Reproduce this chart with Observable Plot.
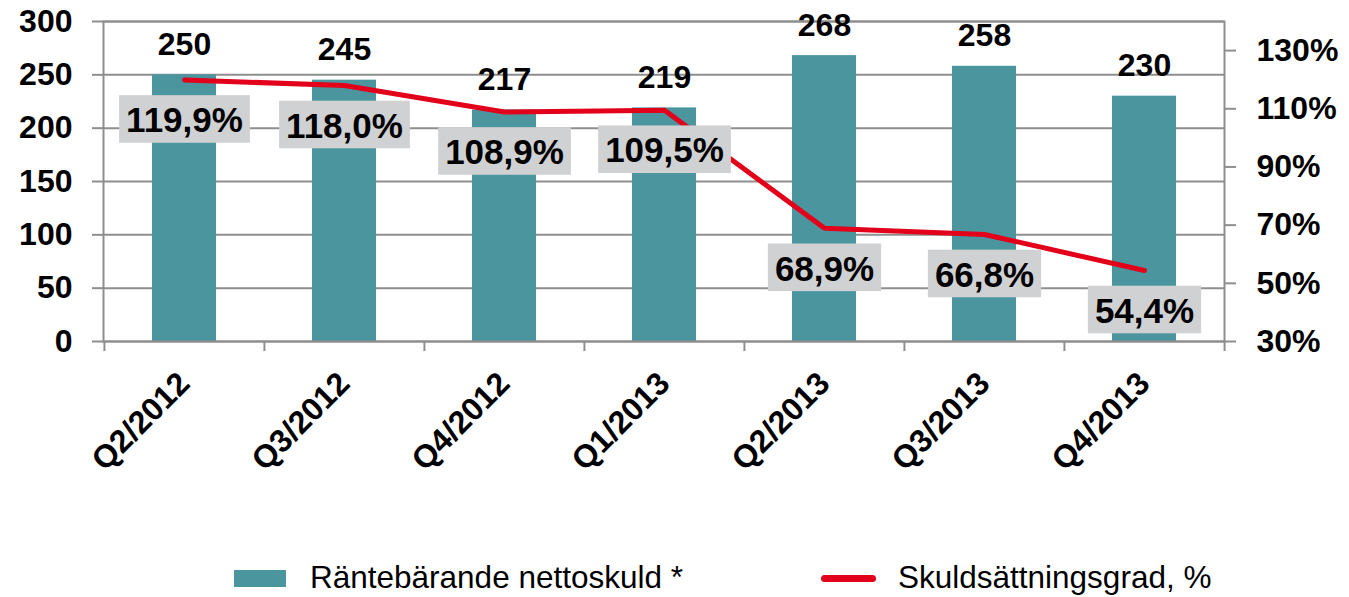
<!DOCTYPE html>
<html><head><meta charset="utf-8">
<script src="https://cdn.jsdelivr.net/npm/d3@7"></script>
<script src="https://cdn.jsdelivr.net/npm/@observablehq/plot@0.6"></script>
<style>
html,body{margin:0;padding:0;background:#fff;}
#wrap{position:relative;width:1349px;height:597px;font-family:"Liberation Sans",Arial,sans-serif;overflow:hidden;}
#chart svg{display:block;}
.lg{position:absolute;}
.lgtext{position:absolute;font-size:31.5px;line-height:31px;color:#000;white-space:nowrap;}
</style></head><body>
<div id="wrap"><div id="chart"></div><div id="legend"></div></div>
<script>
const categories = ["Q2/2012","Q3/2012","Q4/2012","Q1/2013","Q2/2013","Q3/2013","Q4/2013"];
const debt = [250,245,217,219,268,258,230];
const gearing = [119.9,118.0,108.9,109.5,68.9,66.8,54.4];
const leftTicks = [0,50,100,150,200,250,300];
const rightTicks = [30,50,70,90,110,130];
const rightDomain = [30,140];
const leftDomain = [0,300];
const seriesNames = ["Räntebärande nettoskuld *","Skuldsättningsgrad, %"];

const teal = "#4a959e", red = "#e2001a", grid = "#8e8e8e", boxFill = "#d0d1d3";
const data = categories.map((c,i)=>({cat:c, debt:debt[i], gearing:gearing[i]}));
const toLeft = p => (p - rightDomain[0])/(rightDomain[1]-rightDomain[0])*(leftDomain[1]-leftDomain[0]) + leftDomain[0];
const fromLeft = v => (v - leftDomain[0])/(leftDomain[1]-leftDomain[0])*(rightDomain[1]-rightDomain[0]) + rightDomain[0];
const fmtPct = v => v.toFixed(1).replace(".",",") + "%";

const W = 1349, H = 545, mL = 103, mR = 125, mT = 21, mB = H - 341;
const step = (W - mL - mR) / categories.length;
const font = "Liberation Sans, Arial, sans-serif";

const chart = Plot.plot({
  width: W, height: H, marginLeft: mL, marginRight: mR, marginTop: mT, marginBottom: mB,
  style: {fontFamily: font, background: "#fff", color: "#000", overflow: "visible"},
  x: {type: "band", domain: categories, paddingInner: 0.6, paddingOuter: 0.3, axis: null},
  y: {domain: leftDomain, axis: null},
  marks: [
    Plot.gridY(leftTicks, {stroke: grid, strokeWidth: 2, strokeOpacity: 1}),
    Plot.axisY(leftTicks, {anchor: "left", tickSize: 11, tickPadding: 20, stroke: grid, strokeWidth: 2, fontSize: 32, fontWeight: "bold", fill: "#000", label: null}),
    Plot.axisY(rightTicks.map(toLeft), {anchor: "right", tickSize: 11, tickPadding: 21, stroke: grid, strokeWidth: 2, fontSize: 32, fontWeight: "bold", fill: "#000", label: null, tickFormat: v => Math.round(fromLeft(v)) + "%"}),
    Plot.ruleX(categories, {x: d => d, dx: -step/2, y1: 0, y2: 0, insetBottom: -10, stroke: grid, strokeWidth: 2}),
    Plot.ruleX(categories.slice(-1), {x: d => d, dx: step/2, y1: 0, y2: 0, insetBottom: -10, stroke: grid, strokeWidth: 2}),
    Plot.barY(data, {x: "cat", y: "debt", fill: teal}),
    Plot.frame({stroke: grid, strokeWidth: 2}),
    Plot.line(data, {x: "cat", y: d => toLeft(d.gearing), stroke: red, strokeWidth: 5, strokeLinecap: "round", strokeLinejoin: "round"}),
    Plot.text(data, {x: "cat", y: "debt", text: d => String(d.debt), dy: -20, lineAnchor: "bottom", fontSize: 32, fontWeight: "bold", fill: "#000"}),
    Plot.text(data, {x: "cat", y: d => toLeft(d.gearing), text: d => fmtPct(d.gearing), dy: 41, lineAnchor: "middle", fontSize: 35, fontWeight: "bold", fill: "#000"}),
    Plot.text(categories, {x: d => d, text: d => d, frameAnchor: "bottom", rotate: -45, textAnchor: "end", lineAnchor: "bottom", dx: 7, dy: 44, fontSize: 32, fontWeight: "bold", fill: "#000"})
  ]
});
document.getElementById("chart").appendChild(chart);

// gray boxes behind percentage labels (second text mark)
const svgNS = "http://www.w3.org/2000/svg";
const pctSet = new Set(gearing.map(fmtPct));
chart.querySelectorAll('text').forEach(t => {
  if (!pctSet.has(t.textContent)) return;
  if (t.closest('g[aria-label="y-axis tick label"]')) return;
  const bb = t.getBBox();
  const r = document.createElementNS(svgNS, "rect");
  r.setAttribute("x", bb.x - 7);
  r.setAttribute("y", bb.y - 5);
  r.setAttribute("width", bb.width + 14);
  r.setAttribute("height", bb.height + 8.6);
  r.setAttribute("fill", boxFill);
  r.setAttribute("stroke", "none");
  if (t.getAttribute("transform")) r.setAttribute("transform", t.getAttribute("transform"));
  t.parentNode.insertBefore(r, t);
});

// legend
const lg = document.getElementById("legend");
const sw = document.createElement("div");
sw.className = "lg";
Object.assign(sw.style, {left: "234px", top: "570px", width: "52px", height: "17px", background: teal});
lg.appendChild(sw);
const t1 = document.createElement("div");
t1.className = "lgtext"; t1.textContent = seriesNames[0];
Object.assign(t1.style, {left: "310px", top: "562px"});
lg.appendChild(t1);
const ln = document.createElement("div");
ln.className = "lg";
Object.assign(ln.style, {left: "821px", top: "575px", width: "55px", height: "7px", background: red, borderRadius: "4px"});
lg.appendChild(ln);
const t2 = document.createElement("div");
t2.className = "lgtext"; t2.textContent = seriesNames[1];
Object.assign(t2.style, {left: "898px", top: "562px"});
lg.appendChild(t2);
</script>
</body></html>
